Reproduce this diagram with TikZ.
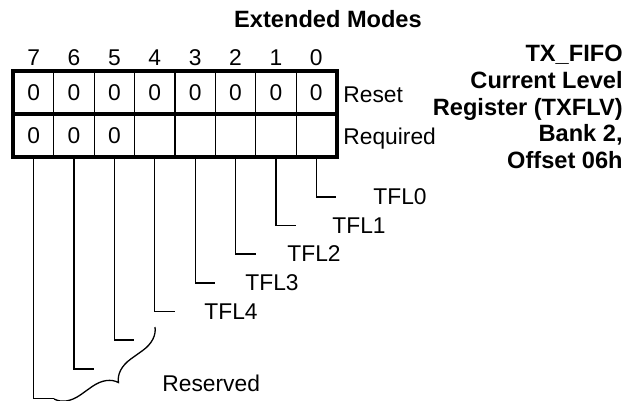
\documentclass[tikz,border=0pt]{standalone}
\usepackage{fontspec}
\setmainfont{Liberation Sans}
\usetikzlibrary{positioning,decorations.pathreplacing}

\begin{document}
\begin{tikzpicture}[
    x=0.5pt, y=-0.5pt,
    cell/.style={draw, line width=0.6pt, minimum width=20.19pt, minimum height=21.25pt, inner sep=0pt, font=\fontsize{11.4}{13}\selectfont},
    frame/.style={line width=1.8pt},
    lead/.style={line width=0.65pt},
    lbl/.style={inner sep=0pt, font=\fontsize{11.4}{13}\selectfont},
    hdr/.style={inner sep=0pt, font=\fontsize{11.8}{13.35}\selectfont\bfseries}
]
\useasboundingbox (0,0) rectangle (638,401);

% headings
\node[hdr, anchor=base] (title) at (328,28) {Extended Modes};
\node[hdr, anchor=north east, align=right] (regname) at (623,45)
    {TX\_FIFO\\Current Level\\Register (TXFLV)\\Bank 2,\\Offset 06h};

% register cells, bit numbers
\foreach \b/\r/\q in {7/0/0,6/0/0,5/0/0,4/0/,3/0/,2/0/,1/0/,0/0/} {
    \node[cell] (rst\b) at (316.3-40.375*\b, 92.75) {\r};
    \node[cell] (req\b) at (316.3-40.375*\b, 135.25) {\q};
    \node[lbl] (n\b) at (316.3-40.375*\b, 58) {\b};
}
\draw[frame] (rst7.north west) rectangle (rst0.south east);
\draw[frame] (req7.north west) rectangle (req0.south east);

\node[lbl, anchor=base west] (reset) at (343,103) {Reset};
\node[lbl, anchor=base west] (required) at (343,145) {Required};

% leader lines
\foreach \b/\y in {0/197,1/225.5,2/254,3/283,4/311.5,5/340,6/369,7/398.5} {
    \coordinate (e\b) at (336.3-40.375*\b, \y);
    \draw[lead] (req\b.south) |- (e\b);
}

\node[lbl, anchor=west] (tfl0) at (373,197) {TFL0};
\node[lbl, anchor=west] (tfl1) at (332,225.5) {TFL1};
\node[lbl, anchor=west] (tfl2) at (287,254) {TFL2};
\node[lbl, anchor=west] (tfl3) at (245,283) {TFL3};
\node[lbl, anchor=west] (tfl4) at (204,311.5) {TFL4};

% reserved bits
\coordinate (brtop) at (155,327);
\coordinate (brbot) at (54,399);
\draw[lead, decorate, decoration={brace, amplitude=12pt}] (brtop) -- (brbot);
\node[lbl, anchor=west] (reserved) at (162,383) {Reserved};
\end{tikzpicture}
\end{document}
